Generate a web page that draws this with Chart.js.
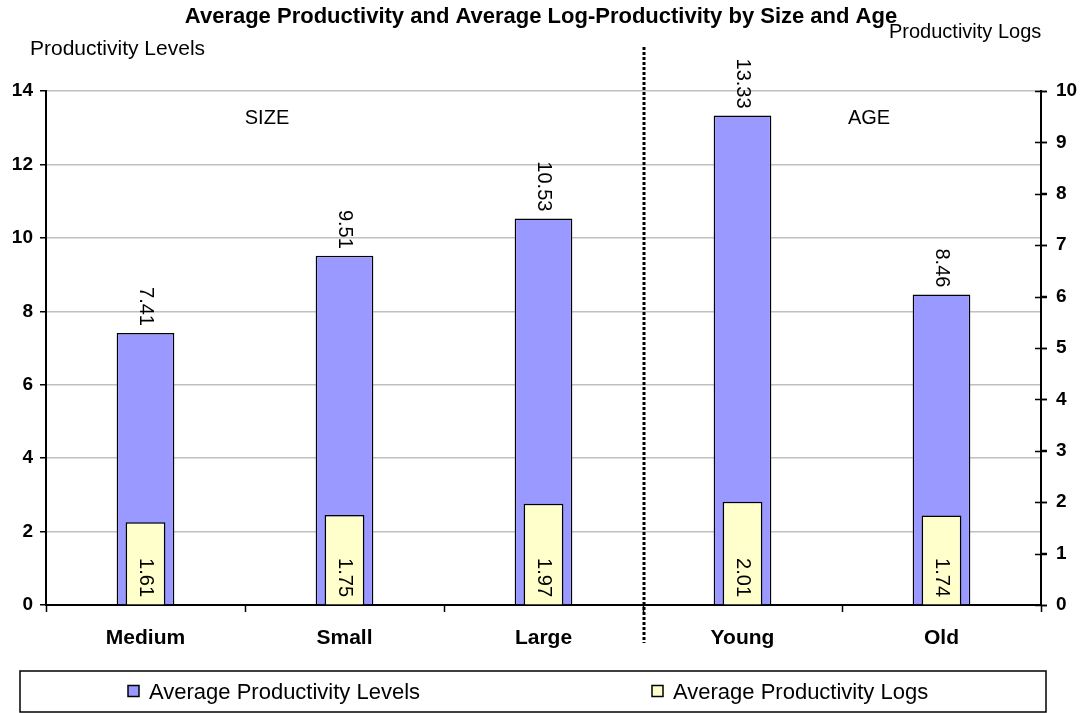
<!DOCTYPE html>
<html>
<head>
<meta charset="utf-8">
<script src="https://cdn.jsdelivr.net/npm/chart.js@4/dist/chart.umd.min.js"></script>
<style>
    html, body { margin: 0; padding: 0; background: #fff; }
    #wrap { width: 1088px; height: 713px; position: relative; }
</style>
</head>
<body>
<div id="wrap"><canvas id="prodChart"></canvas></div>
<script>
// Categories and values
const categories = ['Medium', 'Small', 'Large', 'Young', 'Old'];
const avgLevels = [7.41, 9.51, 10.53, 13.33, 8.46];
const avgLogs = [1.61, 1.75, 1.97, 2.01, 1.74];
const levelTicks = [0, 2, 4, 6, 8, 10, 12, 14];
const logTicks = [0, 1, 2, 3, 4, 5, 6, 7, 8, 9, 10];
const groupNames = ['SIZE', 'AGE'];

const FONT = '"Liberation Sans", Arial, Helvetica, sans-serif';
const BLUE = '#9999FF';
const YELLOW = '#FFFFCC';

// Value labels written vertically (top-to-bottom)
const valueLabels = {
    id: 'valueLabels',
    afterDatasetsDraw(chart) {
        const ctx = chart.ctx;
        const base = chart.scales.y.getPixelForValue(0);
        ctx.save();
        ctx.fillStyle = '#000';
        ctx.font = '20px ' + FONT;
        ctx.textAlign = 'right';
        ctx.textBaseline = 'middle';
        chart.data.datasets.forEach((ds, di) => {
            const meta = chart.getDatasetMeta(di);
            meta.data.forEach((bar, i) => {
                const text = ds.data[i].toFixed(2);
                // levels sit above the bar, logs sit inside near the base
                const y = ds.yAxisID === 'y' ? bar.y - 7 : base - 8;
                ctx.save();
                ctx.translate(bar.x, y);
                ctx.rotate(Math.PI / 2);
                ctx.fillText(text, 0, 0);
                ctx.restore();
            });
        });
        ctx.restore();
    }
};

// Titles, group divider, right axis with crossing ticks, boxed legend
const decorations = {
    id: 'decorations',
    afterDraw(chart) {
        const ctx = chart.ctx;
        const area = chart.chartArea;
        const x = chart.scales.x;
        const y1 = chart.scales.y1;
        ctx.save();
        ctx.fillStyle = '#000';
        ctx.textBaseline = 'alphabetic';

        ctx.font = 'bold 22px ' + FONT;
        ctx.textAlign = 'center';
        ctx.fillText('Average Productivity and Average Log-Productivity by Size and Age', 541, 23);

        ctx.font = '21px ' + FONT;
        ctx.textAlign = 'left';
        ctx.fillText('Productivity Levels', 30, 55);
        ctx.font = '20px ' + FONT;
        ctx.fillText('Productivity Logs', 889, 38);

        ctx.font = '20px ' + FONT;
        ctx.textAlign = 'center';
        ctx.fillText(groupNames[0], 267, 124);
        ctx.fillText(groupNames[1], 869, 124);

        // dotted divider between size and age groups
        const divX = (x.getPixelForValue(2) + x.getPixelForValue(3)) / 2 + 1;
        ctx.strokeStyle = '#000';
        ctx.lineWidth = 3;
        ctx.setLineDash([3, 2]);
        ctx.beginPath();
        ctx.moveTo(divX, 47);
        ctx.lineTo(divX, 643);
        ctx.stroke();
        ctx.setLineDash([]);

        // right axis line and ticks crossing it
        ctx.lineWidth = 2;
        ctx.beginPath();
        ctx.moveTo(area.right, area.top);
        ctx.lineTo(area.right, area.bottom + 1);
        ctx.stroke();
        ctx.lineWidth = 1.5;
        logTicks.forEach(v => {
            const py = Math.round(y1.getPixelForValue(v)) + 0.5;
            ctx.beginPath();
            ctx.moveTo(area.right - 6, py);
            ctx.lineTo(area.right + 6, py);
            ctx.stroke();
        });

        // legend box
        const box = { left: 20, top: 671, right: 1046, bottom: 712 };
        ctx.lineWidth = 1.5;
        ctx.strokeRect(box.left, box.top, box.right - box.left, box.bottom - box.top);
        const itemX = [128, 652];
        const cy = (box.top + box.bottom) / 2;
        ctx.font = '22px ' + FONT;
        ctx.textAlign = 'left';
        ctx.textBaseline = 'middle';
        chart.data.datasets.forEach((ds, i) => {
            ctx.fillStyle = ds.backgroundColor;
            ctx.fillRect(itemX[i], cy - 6, 11, 11);
            ctx.strokeStyle = '#000';
            ctx.lineWidth = 1.5;
            ctx.strokeRect(itemX[i], cy - 6, 11, 11);
            ctx.fillStyle = '#000';
            ctx.fillText(ds.label, itemX[i] + 21, cy + 1);
        });
        ctx.restore();
    }
};

new Chart(document.getElementById('prodChart'), {
    type: 'bar',
    data: {
        labels: categories,
        datasets: [
            {
                label: 'Average Productivity Levels',
                data: avgLevels,
                yAxisID: 'y',
                backgroundColor: BLUE,
                borderColor: '#000',
                borderWidth: 1.5,
                grouped: false,
                categoryPercentage: 1,
                barPercentage: 0.29,
                order: 2
            },
            {
                label: 'Average Productivity Logs',
                data: avgLogs,
                yAxisID: 'y1',
                backgroundColor: YELLOW,
                borderColor: '#000',
                borderWidth: 1.5,
                grouped: false,
                categoryPercentage: 1,
                barPercentage: 0.2,
                order: 1
            }
        ]
    },
    options: {
        responsive: true,
        maintainAspectRatio: false,
        animation: false,
        events: [],
        layout: { padding: { top: 91, left: 0, right: 0, bottom: 0 } },
        plugins: {
            legend: { display: false },
            title: { display: false },
            tooltip: { enabled: false }
        },
        scales: {
            x: {
                offset: true,
                afterFit(scale) { scale.height = 108; },
                grid: {
                    offset: true,
                    drawOnChartArea: false,
                    tickLength: 7,
                    tickColor: '#000',
                    tickWidth: 1.5
                },
                border: { color: '#000', width: 2 },
                ticks: {
                    color: '#000',
                    padding: 14,
                    font: { family: FONT, size: 21, weight: 'bold' }
                }
            },
            y: {
                position: 'left',
                min: 0,
                max: 14,
                afterFit(scale) { scale.width = 46; },
                afterBuildTicks(scale) { scale.ticks = levelTicks.map(v => ({ value: v })); },
                grid: {
                    color: c => (c.tick && c.tick.value === 0) ? 'rgba(0,0,0,0)' : '#c0c0c0',
                    lineWidth: 1.5,
                    tickLength: 6,
                    tickColor: '#000',
                    tickWidth: 1.5
                },
                border: { color: '#000', width: 2 },
                ticks: {
                    color: '#000',
                    padding: 7,
                    font: { family: FONT, size: 19, weight: 'bold' }
                }
            },
            y1: {
                position: 'right',
                min: 0,
                max: 10,
                afterFit(scale) { scale.width = 47; },
                afterBuildTicks(scale) { scale.ticks = logTicks.map(v => ({ value: v })); },
                grid: {
                    drawOnChartArea: false,
                    tickLength: 6,
                    tickColor: '#000',
                    tickWidth: 1.5
                },
                border: { color: '#000', width: 2 },
                ticks: {
                    color: '#000',
                    padding: 9,
                    font: { family: FONT, size: 19, weight: 'bold' }
                }
            }
        }
    },
    plugins: [valueLabels, decorations]
});
</script>
</body>
</html>
